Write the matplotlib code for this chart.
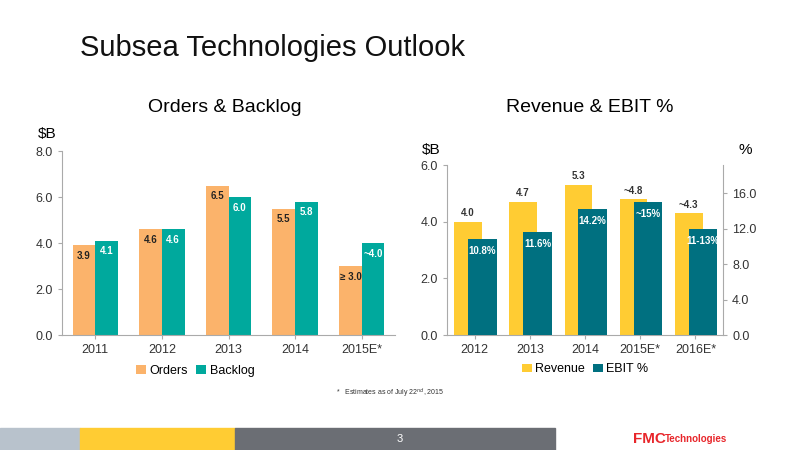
import numpy as np
import matplotlib.pyplot as plt
from matplotlib.patches import Rectangle

plt.rcParams['font.family'] = ['Liberation Sans', 'DejaVu Sans']

years_l = ["2011", "2012", "2013", "2014", "2015E*"]
orders = [3.9, 4.6, 6.5, 5.5, 3.0]
backlog = [4.1, 4.6, 6.0, 5.8, 4.0]
orders_lbl = ["3.9", "4.6", "6.5", "5.5", "≥ 3.0"]
backlog_lbl = ["4.1", "4.6", "6.0", "5.8", "~4.0"]

years_r = ["2012", "2013", "2014", "2015E*", "2016E*"]
revenue = [4.0, 4.7, 5.3, 4.8, 4.3]
revenue_lbl = ["4.0", "4.7", "5.3", "~4.8", "~4.3"]
ebit = [10.8, 11.6, 14.2, 15.0, 12.0]
ebit_lbl = ["10.8%", "11.6%", "14.2%", "~15%", "11-13%"]

ORANGE = "#FBB36B"
TEAL = "#00A99D"
YELLOW = "#FFCC33"
DTEAL = "#007080"
GRID = "#AAAAAA"

fig = plt.figure(figsize=(8, 4.5), dpi=100)
fig.text(0.1, 0.875, "Subsea Technologies Outlook", fontsize=21, color="#111111")


def style(ax):
    for s in ["top", "right"]:
        ax.spines[s].set_visible(False)
    for s in ["left", "bottom"]:
        ax.spines[s].set_color(GRID)
    ax.tick_params(colors="#333333", labelsize=9, length=3, color=GRID)


# Orders & Backlog
ax1 = fig.add_axes([62 / 800, 115 / 450, 333 / 800, 184 / 450])
x = np.arange(len(years_l))
w = 0.34
ax1.bar(x - w / 2, orders, w, color=ORANGE, label="Orders")
ax1.bar(x + w / 2, backlog, w, color=TEAL, label="Backlog")
ax1.set_ylim(0, 8)
ax1.set_xlim(-0.5, len(years_l) - 0.5)
ax1.set_yticks([0, 2, 4, 6, 8])
ax1.set_yticklabels(["0.0", "2.0", "4.0", "6.0", "8.0"])
ax1.set_xticks(x)
ax1.set_xticklabels(years_l)
style(ax1)
for i in range(len(x)):
    ax1.text(x[i] - w / 2, orders[i] - 0.25, orders_lbl[i], ha="center", va="top",
             fontsize=7, fontweight="bold", color="#222222")
    ax1.text(x[i] + w / 2, backlog[i] - 0.25, backlog_lbl[i], ha="center", va="top",
             fontsize=7, fontweight="bold", color="white")
fig.text(225 / 800, 1 - 107 / 450, "Orders & Backlog", ha="center", va="center", fontsize=14)
fig.text(38 / 800, 1 - 134 / 450, "$B", ha="left", va="center", fontsize=11)
ax1.legend(loc="upper center", bbox_to_anchor=(0.4, -0.1), ncol=2, frameon=False,
           fontsize=9, handlelength=0.8, handletextpad=0.3, columnspacing=0.6)

# Revenue & EBIT %
ax2 = fig.add_axes([447 / 800, 115 / 450, 276 / 800, 170 / 450])
x = np.arange(len(years_r))
ax2.bar(x - 0.12, revenue, 0.5, color=YELLOW, label="Revenue")
ax2.set_ylim(0, 6)
ax2.set_xlim(-0.5, len(years_r) - 0.5)
ax2.set_yticks([0, 2, 4, 6])
ax2.set_yticklabels(["0.0", "2.0", "4.0", "6.0"])
ax2.set_xticks(x)
ax2.set_xticklabels(years_r)
style(ax2)
for i in range(len(x)):
    ax2.text(x[i] - 0.12, revenue[i] + 0.12, revenue_lbl[i], ha="center", va="bottom",
             fontsize=7, fontweight="bold", color="#333333")
ax3 = ax2.twinx()
ax3.bar(x + 0.14, ebit, 0.52, color=DTEAL, label="EBIT %")
ax3.set_ylim(0, 19.2)
ax3.set_yticks([0, 4, 8, 12, 16])
ax3.set_yticklabels(["0.0", "4.0", "8.0", "12.0", "16.0"])
for s in ["top", "left", "bottom"]:
    ax3.spines[s].set_visible(False)
ax3.spines["right"].set_color(GRID)
ax3.tick_params(colors="#333333", labelsize=9, length=3, color=GRID)
for i in range(len(x)):
    ax3.text(x[i] + 0.14, ebit[i] - 0.8, ebit_lbl[i], ha="center", va="top",
             fontsize=7, fontweight="bold", color="white")
fig.text(590 / 800, 1 - 107 / 450, "Revenue & EBIT %", ha="center", va="center", fontsize=14)
fig.text(422 / 800, 1 - 150 / 450, "$B", ha="left", va="center", fontsize=11)
fig.text(745 / 800, 1 - 150 / 450, "%", ha="center", va="center", fontsize=11)
h1, l1 = ax2.get_legend_handles_labels()
h2, l2 = ax3.get_legend_handles_labels()
ax2.legend(h1 + h2, l1 + l2, loc="upper center", bbox_to_anchor=(0.5, -0.1), ncol=2,
           frameon=False, fontsize=9, handlelength=0.8, handletextpad=0.3, columnspacing=0.6)

fig.text(0.42, 0.12, "*   Estimates as of July 22$^{nd}$, 2015", fontsize=5, color="#333333")

# footer
for x0, x1, c in [(0, 80, "#B8C2CC"), (80, 235, YELLOW), (235, 555, "#6B6E74")]:
    fig.patches.append(Rectangle((x0 / 800, 0), (x1 - x0) / 800, 22 / 450,
                                 transform=fig.transFigure, color=c))
fig.text(400 / 800, 11 / 450, "3", ha="center", va="center", color="white", fontsize=8)
fig.text(633 / 800, 11 / 450, "FMC", ha="left", va="center", color="#E8262B",
         fontsize=11, fontweight="bold")
fig.text(665 / 800, 11 / 450, "Technologies", ha="left", va="center", color="#E8262B",
         fontsize=7, fontweight="bold")

fig.savefig("out.png", dpi=100)
